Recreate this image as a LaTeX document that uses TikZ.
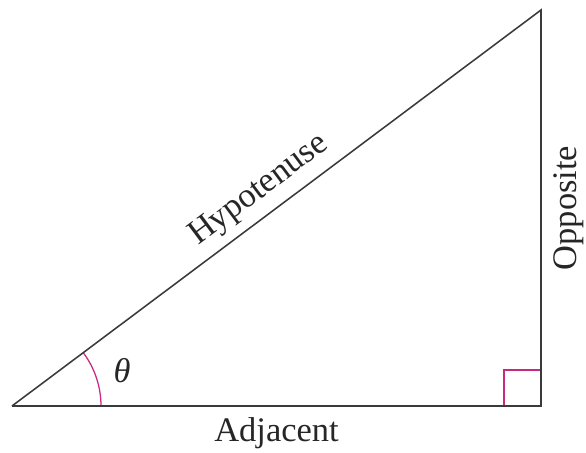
\documentclass[tikz,border=0pt]{standalone}
\usepackage{fontspec}
\setmainfont{Liberation Serif}
\usetikzlibrary{positioning,calc}
\definecolor{trEdge}{HTML}{3A3A3A}
\definecolor{trMark}{HTML}{C8287F}
\tikzset{
  edge/.style={line width=1.1pt, trEdge},
  anglemark/.style={line width=0.9pt, trMark},
  tag/.style={font=\fontsize{24.5}{28}\selectfont, text=black!85, inner sep=2pt}
}
\begin{document}
\begin{tikzpicture}[x=0.025cm, y=-0.025cm]
  \useasboundingbox (0,0) rectangle (586,453);
  \coordinate (a) at (12,406);
  \coordinate (b) at (541,406);
  \coordinate (c) at (541,10);
  % right angle and angle marks
  \draw[anglemark] ($(b)+(-37,0)$) -- ++(0,-36) -- ++(37,0);
  \draw[anglemark] ($(a)+(89,0)$) arc[start angle=0, end angle=-36.8, radius=89];
  % triangle
  \draw[edge, line join=miter] (a) -- node[tag, pos=0.495, above=4pt, sloped] (hyp) {Hypotenuse} (c)
    -- node[tag, midway, rotate=90, anchor=north, outer sep=7pt] (opp) {Opposite} (b)
    -- node[tag, below=6pt] (adj) {Adjacent} (a);
  \node[tag, font=\fontsize{24.5}{28}\selectfont\itshape] (th) at (122,371) {θ};
\end{tikzpicture}
\end{document}
